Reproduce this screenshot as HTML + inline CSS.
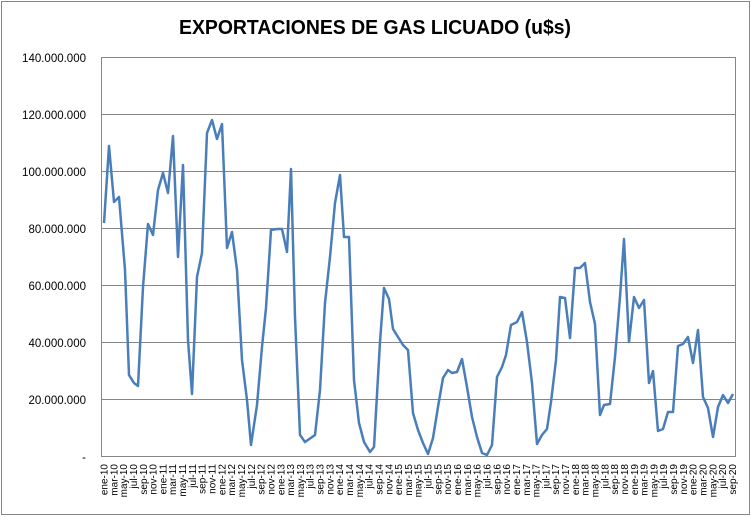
<!DOCTYPE html>
<html><head><meta charset="utf-8"><style>body{margin:0;background:#fff}svg{display:block}</style></head><body>
<svg width="751" height="517" xmlns="http://www.w3.org/2000/svg" font-family="Liberation Sans, sans-serif">
<rect x="1.5" y="1.5" width="748" height="513" fill="#fff" stroke="#868686"/>
<text x="375" y="34" text-anchor="middle" font-size="20" font-weight="bold" fill="#000" textLength="392" lengthAdjust="spacingAndGlyphs">EXPORTACIONES DE GAS LICUADO (u$s)</text>
<g stroke="#868686" stroke-width="1">
<rect x="101.5" y="57.5" width="634" height="399" fill="none"/>
<line x1="101.5" y1="114.5" x2="735.5" y2="114.5"/>
<line x1="101.5" y1="171.5" x2="735.5" y2="171.5"/>
<line x1="101.5" y1="228.5" x2="735.5" y2="228.5"/>
<line x1="101.5" y1="285.5" x2="735.5" y2="285.5"/>
<line x1="101.5" y1="342.5" x2="735.5" y2="342.5"/>
<line x1="101.5" y1="399.5" x2="735.5" y2="399.5"/>
</g>
<g font-size="11.5" text-anchor="end" fill="#000">
<text x="86" y="62">140.000.000</text>
<text x="86" y="119">120.000.000</text>
<text x="86" y="176">100.000.000</text>
<text x="86" y="233">80.000.000</text>
<text x="86" y="290">60.000.000</text>
<text x="86" y="347">40.000.000</text>
<text x="86" y="404">20.000.000</text>
<text x="86" y="461">-</text>
</g>
<polyline fill="none" stroke="#4a7ebb" stroke-width="2.5" stroke-linejoin="round" points="104,223 109,146 114,202 119,197 125,270 129,375 134,383 138,386 143,287 148,224 153,235 158,190 163,173 168,193 173,136 178,257 183,165 188,340 192,394 197,277 202,253 207,133 212,120 217,139 222,124 227,248 232,232 237,270 242,360 247,400 251,445 257,405 262,347 266,308 271,230 277,229 282,229 287,252 291,169 295,317 300,435 305,442 315,435 320,390 325,303 330,257 335,203 340,175 344,237 349,237 354,380 359,423 364,442 370,452 374,447 380,342 384,288 389,299 393,329 398,337 403,345 408,350 413,413 418,430 423,443 428,454 433,438 438,407 443,378 448,370 452,373 457,372 462,359 467,387 472,417 477,437 482,453 487,455 492,445 497,377 502,367 506,355 511,325 517,322 522,312 527,342 532,383 537,444 542,435 547,429 551,402 556,360 560,297 565,298 570,338 575,268 580,268 585,263 590,302 595,324 600,415 604,405 610,404 615,357 620,297 624,239 629,342 634,297 639,308 644,300 649,383 653,371 658,431 663,429 668,412 673,412 678,346 683,344 688,337 693,363 698,330 703,397 708,408 713,437 718,407 723,395 728,403 733,394"/>
<g font-size="10" text-anchor="end" fill="#000">
<text transform="translate(107.5,464) rotate(-90)">ene-10</text>
<text transform="translate(117.3,464) rotate(-90)">mar-10</text>
<text transform="translate(127.1,464) rotate(-90)">may-10</text>
<text transform="translate(137.0,464) rotate(-90)">jul-10</text>
<text transform="translate(146.8,464) rotate(-90)">sep-10</text>
<text transform="translate(156.6,464) rotate(-90)">nov-10</text>
<text transform="translate(166.4,464) rotate(-90)">ene-11</text>
<text transform="translate(176.2,464) rotate(-90)">mar-11</text>
<text transform="translate(186.1,464) rotate(-90)">may-11</text>
<text transform="translate(195.9,464) rotate(-90)">jul-11</text>
<text transform="translate(205.7,464) rotate(-90)">sep-11</text>
<text transform="translate(215.5,464) rotate(-90)">nov-11</text>
<text transform="translate(225.3,464) rotate(-90)">ene-12</text>
<text transform="translate(235.2,464) rotate(-90)">mar-12</text>
<text transform="translate(245.0,464) rotate(-90)">may-12</text>
<text transform="translate(254.8,464) rotate(-90)">jul-12</text>
<text transform="translate(264.6,464) rotate(-90)">sep-12</text>
<text transform="translate(274.4,464) rotate(-90)">nov-12</text>
<text transform="translate(284.3,464) rotate(-90)">ene-13</text>
<text transform="translate(294.1,464) rotate(-90)">mar-13</text>
<text transform="translate(303.9,464) rotate(-90)">may-13</text>
<text transform="translate(313.7,464) rotate(-90)">jul-13</text>
<text transform="translate(323.5,464) rotate(-90)">sep-13</text>
<text transform="translate(333.4,464) rotate(-90)">nov-13</text>
<text transform="translate(343.2,464) rotate(-90)">ene-14</text>
<text transform="translate(353.0,464) rotate(-90)">mar-14</text>
<text transform="translate(362.8,464) rotate(-90)">may-14</text>
<text transform="translate(372.6,464) rotate(-90)">jul-14</text>
<text transform="translate(382.5,464) rotate(-90)">sep-14</text>
<text transform="translate(392.3,464) rotate(-90)">nov-14</text>
<text transform="translate(402.1,464) rotate(-90)">ene-15</text>
<text transform="translate(411.9,464) rotate(-90)">mar-15</text>
<text transform="translate(421.7,464) rotate(-90)">may-15</text>
<text transform="translate(431.6,464) rotate(-90)">jul-15</text>
<text transform="translate(441.4,464) rotate(-90)">sep-15</text>
<text transform="translate(451.2,464) rotate(-90)">nov-15</text>
<text transform="translate(461.0,464) rotate(-90)">ene-16</text>
<text transform="translate(470.8,464) rotate(-90)">mar-16</text>
<text transform="translate(480.7,464) rotate(-90)">may-16</text>
<text transform="translate(490.5,464) rotate(-90)">jul-16</text>
<text transform="translate(500.3,464) rotate(-90)">sep-16</text>
<text transform="translate(510.1,464) rotate(-90)">nov-16</text>
<text transform="translate(519.9,464) rotate(-90)">ene-17</text>
<text transform="translate(529.8,464) rotate(-90)">mar-17</text>
<text transform="translate(539.6,464) rotate(-90)">may-17</text>
<text transform="translate(549.4,464) rotate(-90)">jul-17</text>
<text transform="translate(559.2,464) rotate(-90)">sep-17</text>
<text transform="translate(569.0,464) rotate(-90)">nov-17</text>
<text transform="translate(578.9,464) rotate(-90)">ene-18</text>
<text transform="translate(588.7,464) rotate(-90)">mar-18</text>
<text transform="translate(598.5,464) rotate(-90)">may-18</text>
<text transform="translate(608.3,464) rotate(-90)">jul-18</text>
<text transform="translate(618.1,464) rotate(-90)">sep-18</text>
<text transform="translate(628.0,464) rotate(-90)">nov-18</text>
<text transform="translate(637.8,464) rotate(-90)">ene-19</text>
<text transform="translate(647.6,464) rotate(-90)">mar-19</text>
<text transform="translate(657.4,464) rotate(-90)">may-19</text>
<text transform="translate(667.2,464) rotate(-90)">jul-19</text>
<text transform="translate(677.1,464) rotate(-90)">sep-19</text>
<text transform="translate(686.9,464) rotate(-90)">nov-19</text>
<text transform="translate(696.7,464) rotate(-90)">ene-20</text>
<text transform="translate(706.5,464) rotate(-90)">mar-20</text>
<text transform="translate(716.3,464) rotate(-90)">may-20</text>
<text transform="translate(726.2,464) rotate(-90)">jul-20</text>
<text transform="translate(736.0,464) rotate(-90)">sep-20</text>
</g>
</svg>
</body></html>
